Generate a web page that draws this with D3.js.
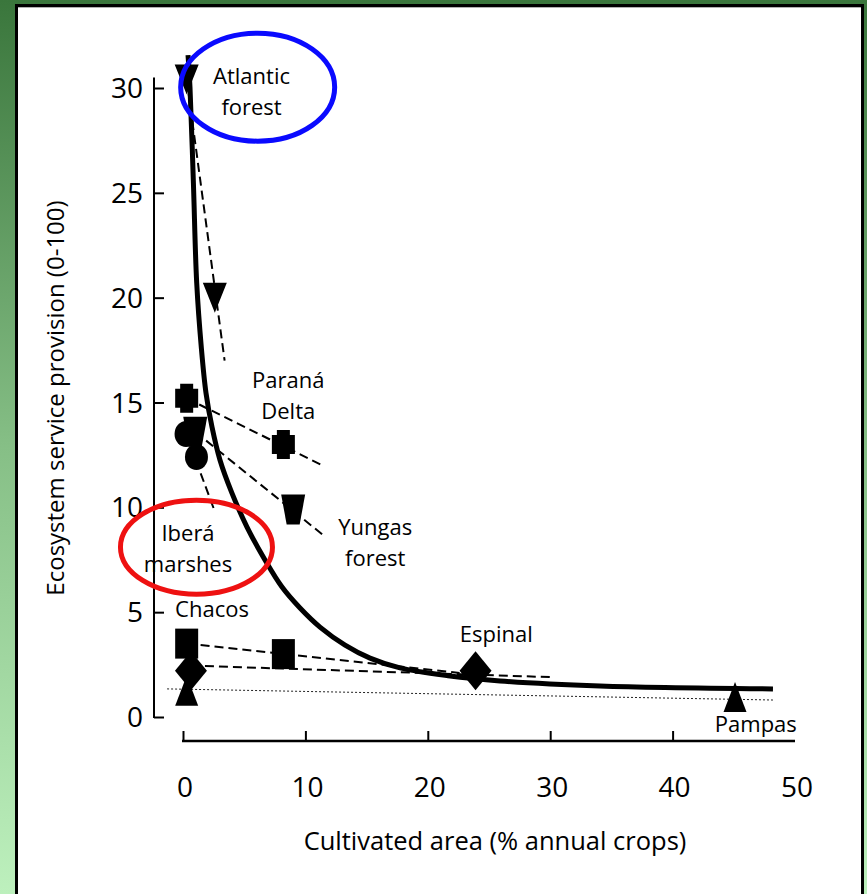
<!DOCTYPE html>
<html>
<head>
<meta charset="utf-8">
<script src="https://cdn.jsdelivr.net/npm/d3@7"></script>
<style>
  html, body { margin: 0; padding: 0; background: #fff; }
  svg { display: block; }
  text { font-family: "Open Sans", "Noto Sans", sans-serif; fill: #000; }
</style>
</head>
<body>
<svg id="chart" width="867" height="894"></svg>
<script>
// ---- axis ticks ----
const xTicks = [0, 10, 20, 30, 40];
const xTickLabels = [0, 10, 20, 30, 40, 50];
const yTicks = [0, 5, 10, 15, 20, 25, 30];

// ---- ecoregions: two observations each (cultivated %, service provision) ----
const regions = ["Atlantic forest", "Paraná Delta", "Yungas forest", "Iberá marshes", "Chacos", "Espinal", "Pampas"];
const symbols = ["triangleDown", "plus", "trapezoid", "circle", "square", "diamond", "triangleUp"];
const cultivated = [[0.3, 2.6], [0.3, 8.2], [1.0, 9.0], [0.25, 1.1], [0.3, 8.2], [0.65, 23.9], [0.3, 45.1]];
const provision = [[30.4, 20.0], [15.2, 13.0], [13.6, 9.9], [13.5, 12.4], [3.5, 3.0], [2.2, 2.2], [1.25, 0.95]];

// ---- dashed trend line per ecoregion (start, end) ----
const trendX = [[0.3, 3.4], [0.3, 11.4], [1.0, 11.4], [0.25, 2.6], [0.3, 22.6], [0.65, 30.2]];
const trendY = [[30.4, 17.0], [15.2, 12.0], [13.6, 8.7], [13.5, 9.8], [3.5, 2.1], [2.45, 1.9]];

// ---- fitted response curve ----
const curveX = [0.41, 0.57, 0.85, 1.12, 1.5, 1.88, 2.37, 3.02, 4.0, 5.23, 6.7, 8.09, 9.56, 11.19, 13.24, 15.28, 17.73, 21.65, 25.9, 34.07, 48.2];
const curveY = [31.57, 30.04, 25.47, 20.7, 17.6, 15.45, 13.83, 12.26, 10.68, 9.06, 7.49, 6.2, 5.2, 4.29, 3.43, 2.81, 2.34, 1.97, 1.72, 1.48, 1.34];

// ---- dotted reference line ----
const refX = [-1.3, 48.2];
const refY = [1.34, 0.81];

// ---- text annotations ----
const labelLines = [["Atlantic", "forest"], ["Paraná", "Delta"], ["Yungas", "forest"], ["Iberá", "marshes"], ["Chacos"], ["Espinal"], ["Pampas"]];
const labelX = [5.6, 8.6, 15.7, 0.41, 2.37, 25.6, 46.8];
const labelY = [30.2, 15.7, 8.7, 8.4, 4.77, 3.58, -0.72];

const svg = d3.select("#chart");
const W = 867, H = 894;

// ---- frame ----
const defs = svg.append("defs");
const grad = defs.append("linearGradient").attr("id", "bg").attr("x1", 0).attr("y1", 0).attr("x2", 0).attr("y2", 1);
grad.append("stop").attr("offset", "0%").attr("stop-color", "#3a763c");
grad.append("stop").attr("offset", "50%").attr("stop-color", "#86bf86");
grad.append("stop").attr("offset", "100%").attr("stop-color", "#bdf0bd");
svg.append("rect").attr("width", W).attr("height", H).attr("fill", "url(#bg)");
svg.append("rect").attr("x", 16.5).attr("y", 5.5).attr("width", 846).attr("height", 920)
  .attr("fill", "#fff").attr("stroke", "#000").attr("stroke-width", 3);
svg.append("line").attr("x1", 18).attr("x2", 861).attr("y1", 7.5).attr("y2", 7.5)
  .attr("stroke", "#b0b0b0").attr("stroke-width", 1);

// ---- scales ----
const x = d3.scaleLinear().domain([0, 50]).range([183, 795]);
const y = d3.scaleLinear().domain([0, 30]).range([717, 88]);

// ---- y axis ----
const yAxis = svg.append("g").attr("transform", "translate(154,0)")
  .call(d3.axisRight(y).tickValues(yTicks).tickSize(10).tickFormat(""));
yAxis.select(".domain").remove();
yAxis.selectAll(".tick line").attr("stroke", "#000").attr("stroke-width", 2);
svg.append("line").attr("x1", 154).attr("x2", 154).attr("y1", y(30.5)).attr("y2", y(0) + 1)
  .attr("stroke", "#000").attr("stroke-width", 2);
svg.append("g").selectAll("text").data(yTicks).join("text")
  .attr("x", 143).attr("y", d => y(d) + 10)
  .attr("text-anchor", "end").attr("font-size", 28).text(d => d);

// ---- x axis ----
const xAxis = svg.append("g").attr("transform", "translate(0,741)")
  .call(d3.axisTop(x).tickValues(xTicks).tickSize(10).tickFormat(""));
xAxis.select(".domain").remove();
xAxis.selectAll(".tick line").attr("stroke", "#000").attr("stroke-width", 2);
svg.append("line").attr("x1", x(0) - 1).attr("x2", x(50)).attr("y1", 741).attr("y2", 741)
  .attr("stroke", "#000").attr("stroke-width", 2.5);
svg.append("g").selectAll("text").data(xTickLabels).join("text")
  .attr("x", d => x(d) + 2).attr("y", 797)
  .attr("text-anchor", "middle").attr("font-size", 28).text(d => d);

// ---- axis titles ----
svg.append("text").attr("x", 495).attr("y", 850).attr("text-anchor", "middle")
  .attr("font-size", 25.5).text("Cultivated area (% annual crops)");
svg.append("text").attr("transform", "translate(64,398) rotate(-90)").attr("text-anchor", "middle")
  .attr("font-size", 24).text("Ecosystem service provision (0-100)");

// ---- dotted reference line ----
svg.append("line")
  .attr("x1", x(refX[0])).attr("y1", y(refY[0])).attr("x2", x(refX[1])).attr("y2", y(refY[1]))
  .attr("stroke", "#222").attr("stroke-width", 1).attr("stroke-dasharray", "2,2");

// ---- dashed trend lines ----
svg.append("g").selectAll("line").data(trendX).join("line")
  .attr("x1", (d, i) => x(d[0])).attr("y1", (d, i) => y(trendY[i][0]))
  .attr("x2", (d, i) => x(d[1])).attr("y2", (d, i) => y(trendY[i][1]))
  .attr("stroke", "#000").attr("stroke-width", 2).attr("stroke-dasharray", "9,5");

// ---- fitted curve ----
const curvePts = curveX.map((v, i) => [v, curveY[i]]);
svg.append("path").datum(curvePts)
  .attr("d", d3.line().x(d => x(d[0])).y(d => y(d[1])).curve(d3.curveCatmullRom.alpha(0.5)))
  .attr("fill", "none").attr("stroke", "#000").attr("stroke-width", 5);

// ---- markers ----
function symbolPath(kind) {
  switch (kind) {
    case "triangleDown": return "M-12,-15L12,-15L0,15Z";
    case "triangleUp": return "M0,-15L11.5,15L-11.5,15Z";
    case "trapezoid": return "M-12,-15L12,-15L6.5,15L-6.5,15Z";
    case "plus": return "M-6.5,-14.5L6.5,-14.5L6.5,-9.5L11.5,-9.5L11.5,9.5L6.5,9.5L6.5,14.5L-6.5,14.5L-6.5,9.5L-11.5,9.5L-11.5,-9.5L-6.5,-9.5Z";
    case "square": return "M-11.5,-15L11.5,-15L11.5,15L-11.5,15Z";
    case "diamond": return "M0,-19.5L16,0L0,19.5L-16,0Z";
    case "circle": return "M-11.5,0A11.5,13 0 1,0 11.5,0A11.5,13 0 1,0 -11.5,0Z";
  }
}
const markerData = [];
regions.forEach((r, i) => {
  cultivated[i].forEach((cx, j) => markerData.push({ kind: symbols[i], cx, cy: provision[i][j] }));
});
svg.append("g").selectAll("path").data(markerData).join("path")
  .attr("transform", d => `translate(${x(d.cx)},${y(d.cy)})`)
  .attr("d", d => symbolPath(d.kind)).attr("fill", "#000");

// ---- highlight ellipses ----
svg.append("ellipse").attr("cx", x(6.1)).attr("cy", y(30.04)).attr("rx", 77).attr("ry", 54)
  .attr("fill", "none").attr("stroke", "#0a0aff").attr("stroke-width", 5);
svg.append("ellipse").attr("cx", x(1.1)).attr("cy", y(8.1)).attr("rx", 76).attr("ry", 47)
  .attr("fill", "none").attr("stroke", "#ee1111").attr("stroke-width", 5);

// ---- region labels ----
labelLines.forEach((lines, i) => {
  const t = svg.append("text").attr("text-anchor", "middle").attr("font-size", 22);
  lines.forEach((ln, k) => {
    t.append("tspan").attr("x", x(labelX[i])).attr("y", y(labelY[i]) + k * 31).text(ln);
  });
});
</script>
</body>
</html>
